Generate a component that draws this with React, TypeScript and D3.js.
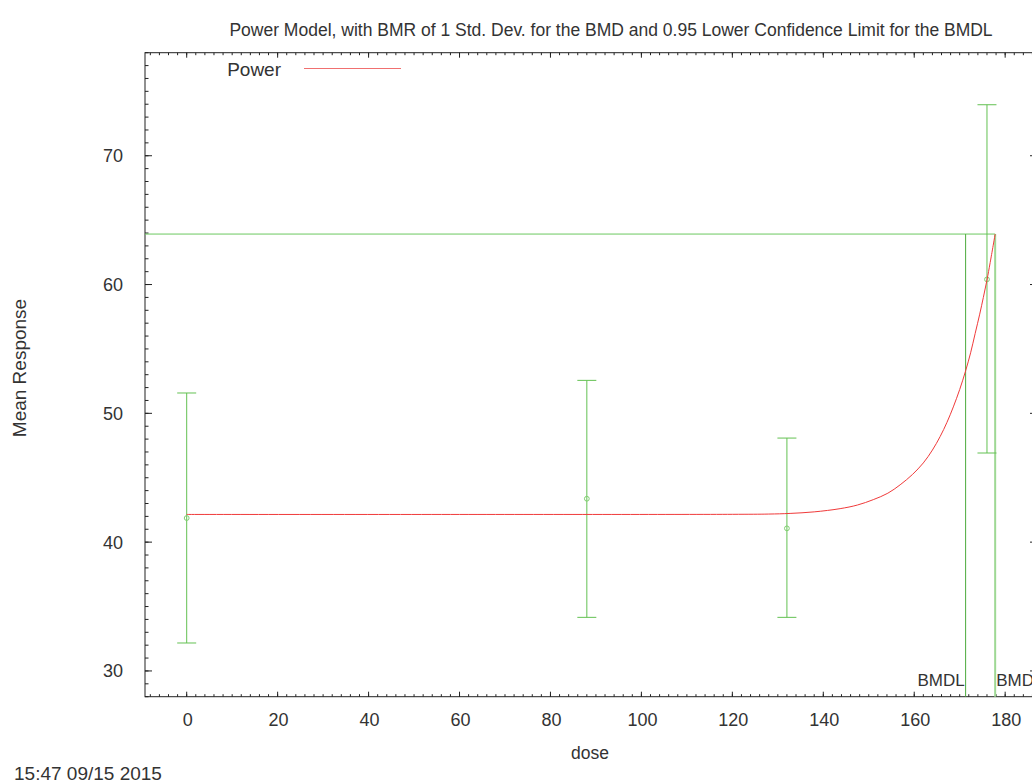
import React from "react";
import * as d3 from "d3";

// Observed data (dose groups)
const doses = [0, 88, 132, 176];
const means = [41.87, 43.37, 41.07, 60.4];
const lowers = [32.17, 34.16, 34.16, 46.92];
const uppers = [51.58, 52.56, 48.08, 73.96];

// Fitted power-model curve
const curveDose = [0, 60, 120, 128, 132.7, 138, 143.7, 147.5, 151.0, 154.2, 156.9, 159.6, 162.0, 164.0, 165.7, 167.2, 168.6, 170.0, 171.3, 172.4, 173.4, 174.4, 175.2, 176.0, 176.7, 177.8];
const curveResp = [42.15, 42.15, 42.16, 42.18, 42.23, 42.35, 42.6, 42.88, 43.3, 43.8, 44.45, 45.25, 46.15, 47.15, 48.2, 49.3, 50.5, 51.85, 53.3, 54.7, 56.2, 57.7, 59.0, 60.35, 61.7, 63.92];

// Benchmark values
const bmr = 63.92;
const bmd = 177.8;
const bmdl = 171.3;

// Axis ticks
const xTicks = [0, 20, 40, 60, 80, 100, 120, 140, 160, 180];
const yTicks = [30, 40, 50, 60, 70];

const title = "Power Model, with BMR of 1 Std. Dev. for the BMD and 0.95 Lower Confidence Limit for the BMDL";
const xLabel = "dose";
const yLabel = "Mean Response";
const stamp = "15:47 09/15 2015";
const legendLabel = "Power";

const W = 1032;
const H = 784;
const L = 145, R = 1037, T = 52.7, B = 696.7;
const FONT = "'Liberation Sans', Arial, sans-serif";
const TXT = "#333";

export default function App() {
  const x = d3.scaleLinear().domain([-9.17, 187.0]).range([L, R]);
  const y = d3.scaleLinear().domain([28, 78]).range([B, T]);

  const xMinor = d3.range(-8, 188, 2);
  const yMinor = d3.range(28, 79, 1);

  const line = d3
    .line<number>()
    .x((_, i) => x(curveDose[i]))
    .y((d) => y(d))
    .curve(d3.curveCatmullRom.alpha(0.5));

  const green = "#63c152";

  return (
    <svg
      width={W}
      height={H}
      style={{ position: "absolute", left: 0, top: 0, background: "#fff" }}
      fontFamily={FONT}
    >
      <rect x={0} y={0} width={W} height={H} fill="#fff" />
      {/* title */}
      <text x={611} y={36} textAnchor="middle" fontSize={17.5} fill={TXT}>
        {title}
      </text>

      {/* ticks */}
      <g stroke="#222" strokeWidth={1}>
        {xMinor.map((v) => (
          <g key={"xm" + v}>
            <line x1={x(v)} x2={x(v)} y1={B} y2={B - 2.5} />
            <line x1={x(v)} x2={x(v)} y1={T} y2={T + 2.5} />
          </g>
        ))}
        {yMinor.map((v) => (
          <g key={"ym" + v}>
            <line x1={L} x2={L + 3.5} y1={y(v)} y2={y(v)} />
            <line x1={R} x2={R - 3.5} y1={y(v)} y2={y(v)} />
          </g>
        ))}
        {xTicks.map((v) => (
          <g key={"xM" + v}>
            <line x1={x(v)} x2={x(v)} y1={B} y2={B - 5} />
            <line x1={x(v)} x2={x(v)} y1={T} y2={T + 5} />
          </g>
        ))}
        {yTicks.map((v) => (
          <g key={"yM" + v}>
            <line x1={L} x2={L + 7} y1={y(v)} y2={y(v)} />
            <line x1={R} x2={R - 7} y1={y(v)} y2={y(v)} />
          </g>
        ))}
      </g>

      {/* frame */}
      <rect x={L} y={T} width={R - L} height={B - T} fill="none" stroke="#222" strokeWidth={1} />

      {/* tick labels */}
      {xTicks.map((v) => (
        <text key={"xl" + v} x={x(v) + 1} y={726} textAnchor="middle" fontSize={18} fill={TXT}>
          {v}
        </text>
      ))}
      {yTicks.map((v) => (
        <text key={"yl" + v} x={123} y={y(v)} dy="0.36em" textAnchor="end" fontSize={18} fill={TXT}>
          {v}
        </text>
      ))}

      {/* axis labels */}
      <text x={590} y={759} textAnchor="middle" fontSize={17.5} fill={TXT}>
        {xLabel}
      </text>
      <text
        transform={`translate(26,${368}) rotate(-90)`}
        textAnchor="middle"
        fontSize={19}
        fill={TXT}
      >
        {yLabel}
      </text>
      <text x={14} y={780} fontSize={19} fill={TXT}>
        {stamp}
      </text>

      {/* legend */}
      <text x={281} y={76} textAnchor="end" fontSize={19} fill={TXT}>
        {legendLabel}
      </text>
      <line x1={304} x2={401} y1={68.5} y2={68.5} stroke="#f07070" strokeWidth={1.2} />

      {/* BMR / BMD / BMDL lines */}
      <line x1={L} x2={x(bmd)} y1={y(bmr)} y2={y(bmr)} stroke="#6cc860" strokeWidth={1} />
      <line x1={x(bmdl)} x2={x(bmdl)} y1={B} y2={y(bmr)} stroke="#4caa3c" strokeWidth={1} />
      <line x1={x(bmd)} x2={x(bmd)} y1={B} y2={y(bmr)} stroke="#9ed894" strokeWidth={2} />

      {/* error bars */}
      {doses.map((d, i) => (
        <g key={"eb" + i} stroke={green} strokeWidth={1} fill="none">
          <line x1={x(d)} x2={x(d)} y1={y(lowers[i])} y2={y(uppers[i])} />
          <line x1={x(d) - 9.5} x2={x(d) + 9.5} y1={y(lowers[i])} y2={y(lowers[i])} />
          <line x1={x(d) - 9.5} x2={x(d) + 9.5} y1={y(uppers[i])} y2={y(uppers[i])} />
          <circle cx={x(d)} cy={y(means[i])} r={2.4} stroke="#7fcf70" />
        </g>
      ))}

      {/* model curve */}
      <path d={line(curveResp) || ""} fill="none" stroke="#f03a3a" strokeWidth={1} />

      {/* BMD labels */}
      <text x={x(bmdl) - 1} y={686} textAnchor="end" fontSize={17} fill={TXT}>
        BMDL
      </text>
      <text x={x(bmd) + 1} y={686} fontSize={17} fill={TXT}>
        BMD
      </text>
    </svg>
  );
}
